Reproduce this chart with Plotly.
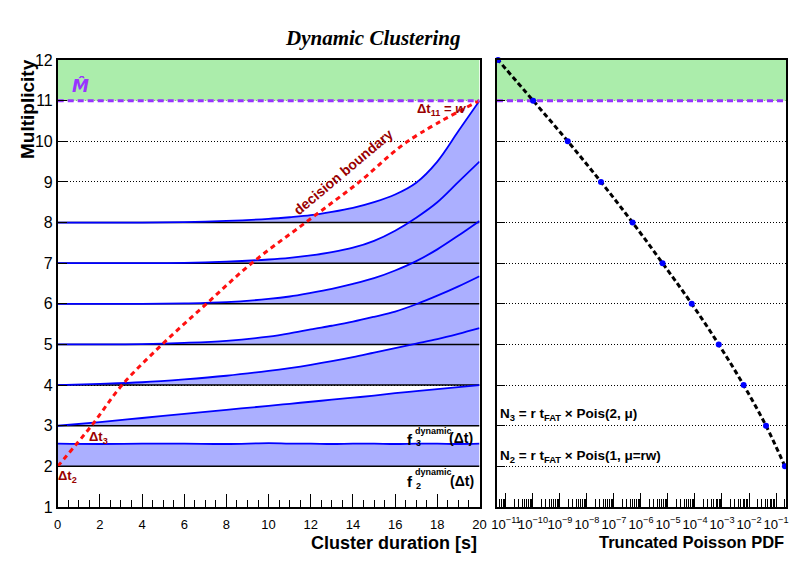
import plotly.graph_objects as go

# ---------------- data ----------------
T = [0, 2, 4, 6, 8, 10, 11, 12, 13, 14, 15, 16, 17, 18, 19, 20]
F2 = [2.56, 2.55, 2.56, 2.56, 2.55, 2.57, 2.56, 2.56, 2.55, 2.56, 2.56, 2.55, 2.56, 2.56, 2.55, 2.56]
F3 = [3.00, 3.09, 3.19, 3.29, 3.39, 3.49, 3.54, 3.59, 3.64, 3.69, 3.74, 3.80, 3.85, 3.90, 3.95, 4.00]
F4 = [4.00, 4.03, 4.07, 4.14, 4.23, 4.35, 4.42, 4.50, 4.59, 4.69, 4.80, 4.91, 5.02, 5.13, 5.26, 5.40]
F5 = [5.00, 5.00, 5.01, 5.04, 5.09, 5.19, 5.27, 5.37, 5.46, 5.56, 5.68, 5.81, 5.99, 6.20, 6.43, 6.68]
F6 = [6.00, 6.00, 6.00, 6.01, 6.04, 6.12, 6.18, 6.27, 6.37, 6.49, 6.63, 6.82, 7.05, 7.34, 7.68, 8.04]
F7 = [7.00, 7.00, 7.00, 7.01, 7.04, 7.09, 7.13, 7.19, 7.27, 7.38, 7.55, 7.80, 8.12, 8.50, 9.00, 9.50]
F8 = [8.00, 8.00, 8.00, 8.01, 8.04, 8.09, 8.13, 8.18, 8.26, 8.36, 8.50, 8.69, 8.98, 9.50, 10.25, 11.00]
CURVES = {2: F2, 3: F3, 4: F4, 5: F5, 6: F6, 7: F7, 8: F8}

DB_T = [0, 1.6, 3.05, 4.95, 7.05, 9.2, 11.75, 14.3, 16.6, 20.0]
DB_M = [2, 3, 4, 5, 6, 7, 8, 9, 10, 11]

PDF_M = [2, 3, 4, 5, 6, 7, 8, 9, 10, 11, 12]
PDF_VAL = [2.14e-1, 4.27e-2, 6.31e-3, 7.59e-4, 7.59e-5, 6.31e-6, 4.90e-7, 3.31e-8, 1.95e-9, 1.02e-10, 5.13e-12]

M_HAT = 11
M_TOP = 12
X_RANGE = [0, 20]
PDF_LOG_RANGE = [-11.33, -0.63]
Y_RANGE = [1, 12]

W, H = 789, 572
def px(x):
    return x / W
def py(y):
    return 1 - y / H

BLUE = "#0000ff"
DARKRED = "#990000"
PURPLE = "#9933ff"
FONT = "Liberation Sans"
BLUE_FILL = "#abafff"
GREEN_FILL = "#abedab"

fig = go.Figure()

# green band left
fig.add_trace(go.Scatter(x=[X_RANGE[0], X_RANGE[1], X_RANGE[1], X_RANGE[0]],
                         y=[M_HAT, M_HAT, M_TOP, M_TOP], fill="toself", mode="lines",
                         line=dict(width=0), fillcolor=GREEN_FILL,
                         xaxis="x", yaxis="y", hoverinfo="skip", showlegend=False))
# green band right
lo, hi = 10 ** PDF_LOG_RANGE[0], 10 ** PDF_LOG_RANGE[1]
fig.add_trace(go.Scatter(x=[lo, hi, hi, lo], y=[M_HAT, M_HAT, M_TOP, M_TOP], fill="toself",
                         mode="lines", line=dict(width=0), fillcolor=GREEN_FILL,
                         xaxis="x2", yaxis="y2", hoverinfo="skip", showlegend=False))

# histogram-like fills
for m, vals in CURVES.items():
    fig.add_trace(go.Scatter(x=T, y=[m] * len(T), mode="lines", line=dict(width=0),
                             xaxis="x", yaxis="y", hoverinfo="skip", showlegend=False))
    fig.add_trace(go.Scatter(x=T, y=vals, mode="lines", fill="tonexty",
                             line=dict(width=0, shape="spline"), fillcolor=BLUE_FILL,
                             xaxis="x", yaxis="y", hoverinfo="skip", showlegend=False))

# black baselines
for m in CURVES:
    fig.add_trace(go.Scatter(x=X_RANGE, y=[m, m], mode="lines",
                             line=dict(color="black", width=1.5),
                             xaxis="x", yaxis="y", hoverinfo="skip", showlegend=False))

# curve outlines on top of all fills
for m, vals in CURVES.items():
    fig.add_trace(go.Scatter(x=T, y=vals, mode="lines",
                             line=dict(color=BLUE, width=1.8, shape="spline"),
                             xaxis="x", yaxis="y", showlegend=False))

# decision boundary
fig.add_trace(go.Scatter(x=DB_T, y=DB_M, mode="lines",
                         line=dict(color="#ff1010", width=3, dash="5px,4px", shape="spline"),
                         xaxis="x", yaxis="y", showlegend=False, cliponaxis=False))

# purple M-hat line
fig.add_trace(go.Scatter(x=X_RANGE, y=[M_HAT, M_HAT], mode="lines",
                         line=dict(color=PURPLE, width=3, dash="6px,4px"),
                         xaxis="x", yaxis="y", showlegend=False))
fig.add_trace(go.Scatter(x=[lo, hi], y=[M_HAT, M_HAT], mode="lines",
                         line=dict(color=PURPLE, width=3, dash="6px,4px"),
                         xaxis="x2", yaxis="y2", showlegend=False))

# Poisson pdf
fig.add_trace(go.Scatter(x=PDF_VAL, y=PDF_M, mode="lines",
                         line=dict(color="black", width=3, dash="5px,3px", shape="spline"),
                         xaxis="x2", yaxis="y2", showlegend=False))
fig.add_trace(go.Scatter(x=PDF_VAL, y=PDF_M, mode="markers",
                         marker=dict(color=BLUE, size=6), cliponaxis=False,
                         xaxis="x2", yaxis="y2", showlegend=False))

ydom = [py(507), py(60)]
axis_common = dict(showline=True, mirror=True, linecolor="black", linewidth=1.5,
                   ticks="inside", tickcolor="black", zeroline=False, automargin=False)

fig.update_layout(
    width=W, height=H, margin=dict(l=0, r=0, t=0, b=0, autoexpand=False),
    paper_bgcolor="white", plot_bgcolor="white", showlegend=False,
    font=dict(family=FONT, color="black"),
    xaxis=dict(domain=[px(57.7), px(479.5)], range=X_RANGE, anchor="y", dtick=2,
               ticklen=13, showgrid=False, tickfont=dict(size=13, family=FONT),
               ticklabelstandoff=5, tickangle=0, ticklabeloverflow="allow",
               minor=dict(dtick=0.5, ticks="inside", ticklen=7, tickcolor="black", showgrid=False),
               **axis_common),
    yaxis=dict(domain=ydom, range=Y_RANGE, anchor="x", dtick=1, ticklen=10,
               showgrid=True, gridcolor="black", gridwidth=1, griddash="1px,2px",
               tickfont=dict(size=16, family=FONT), **axis_common),
    xaxis2=dict(domain=[px(497), px(786)], type="log", range=PDF_LOG_RANGE, anchor="y2",
                dtick=1, exponentformat="power", showexponent="all", ticklen=14,
                showgrid=False, tickfont=dict(size=10.5, family=FONT), ticklabelstandoff=5,
                tickangle=0, ticklabeloverflow="allow",
                minor=dict(dtick="D1", ticks="inside", ticklen=8, tickcolor="black", showgrid=False),
                **axis_common),
    yaxis2=dict(domain=ydom, range=Y_RANGE, anchor="x2", dtick=1, ticklen=8,
                showticklabels=False, showgrid=True, gridcolor="black", gridwidth=1,
                griddash="1px,2px", **axis_common),
)

ann = []
def A(x, y, text, size, color="black", xanchor="center", yanchor="middle", angle=0, family=FONT):
    ann.append(dict(x=px(x), y=py(y), xref="paper", yref="paper", text=text, showarrow=False,
                    xanchor=xanchor, yanchor=yanchor, textangle=angle,
                    font=dict(size=size, color=color, family=family)))

A(372, 38, "<b><i>Dynamic Clustering</i></b>", 21, family="Liberation Serif")
A(28, 109, "<b>Multiplicity</b>", 19, angle=-90)
A(479.5, 543, "<b>Cluster duration [s]</b>", 18, xanchor="right")
A(786, 542, "<b>Truncated Poisson PDF</b>", 16.5, xanchor="right")
A(80, 86, "<b><i>M̂</i></b>", 17, color=PURPLE, family="DejaVu Sans")
A(468, 110, "<b>Δt<sub>11</sub> = <i>w</i></b>", 13, color=DARKRED, xanchor="right")
A(343, 172, "<b>decision boundary</b>", 14, color=DARKRED, angle=-40)
A(99, 437, "<b>Δt<sub>3</sub></b>", 13, color=DARKRED)
A(67, 476, "<b>Δt<sub>2</sub></b>", 13, color=DARKRED)
# f3 label
A(415, 439, "<b>f</b>", 15, xanchor="right")
A(413, 431, "<b>dynamic</b>", 9, xanchor="left")
A(414, 443, "<b>3</b>", 9, xanchor="left")
A(447, 438, "<b>(Δt)</b>", 14, xanchor="left")
# f2 label
A(415, 481, "<b>f</b>", 15, xanchor="right")
A(413, 472, "<b>dynamic</b>", 9, xanchor="left")
A(414, 486, "<b>2</b>", 9, xanchor="left")
A(448, 481, "<b>(Δt)</b>", 14, xanchor="left")
# right panel formulas
A(498, 414, "<b>N<sub>3</sub> = r t<sub>FAT</sub> × Pois(2, μ)</b>", 13.5, xanchor="left")
A(498, 456, "<b>N<sub>2</sub> = r t<sub>FAT</sub> × Pois(1, μ=rw)</b>", 13.5, xanchor="left")

fig.update_layout(annotations=ann)
fig.write_html("out.html", config={"displayModeBar": False},
               post_script="document.body.style.margin='0px';document.body.style.overflow='hidden';")
